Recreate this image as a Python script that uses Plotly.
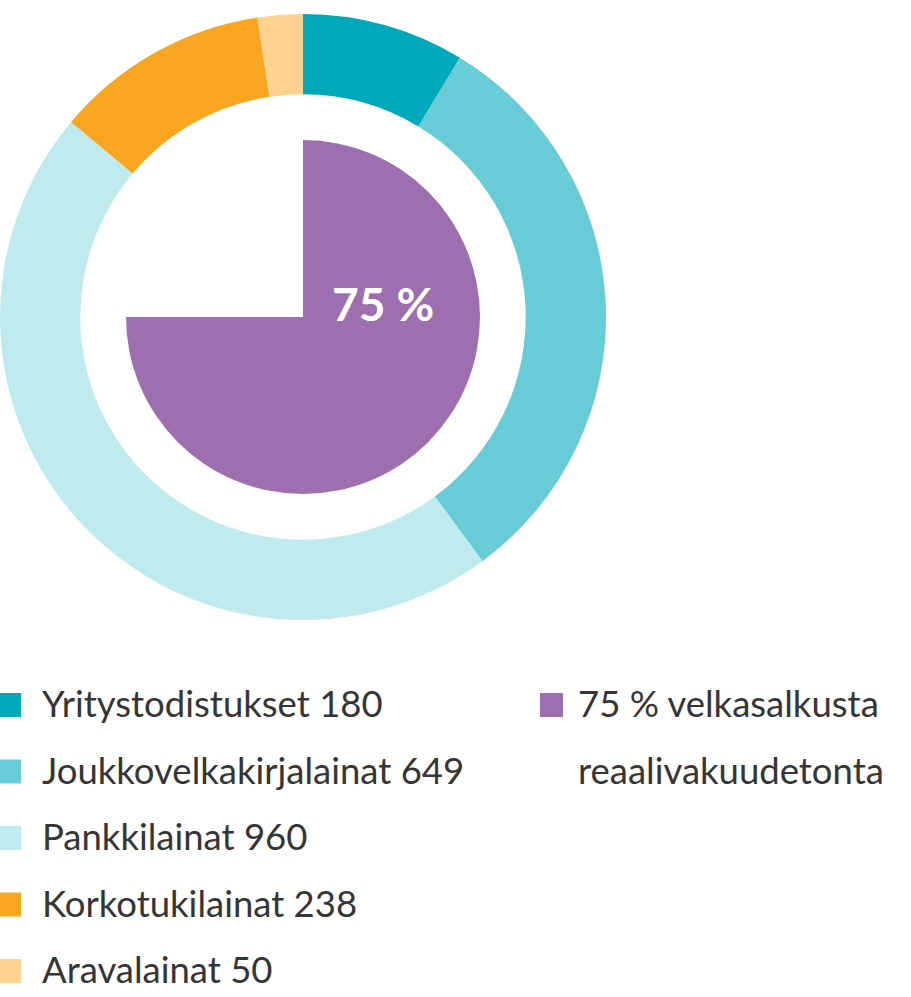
import plotly.graph_objects as go

W, H = 911, 997

# ---- data ----
labels = ["Yritystodistukset", "Joukkovelkakirjalainat", "Pankkilainat", "Korkotukilainat", "Aravalainat"]
values = [180, 649, 960, 238, 50]
colors = ["#00A9BA", "#68CCD7", "#BFEAEE", "#F8A51F", "#FDD38F"]

share_labels = ["reaalivakuudeton", "muu"]
share_values = [75, 25]
share_colors = ["#9D6FAF", "rgba(0,0,0,0)"]
share_text = "75 %"
share_legend = ["75 % velkasalkusta", "reaalivakuudetonta"]

TEXT_COLOR = "#353535"
FONT = "Lato"

# ---- geometry (pixels from top-left) ----
cx, cy = 303, 317
R_out, R_in = 303, 177

def dom(r, c_x=cx):
    return dict(x=[(c_x - r) / W, (c_x + r) / W],
                y=[(H - cy - r) / H, (H - cy + r) / H])

fig = go.Figure()
fig.add_trace(go.Pie(
    labels=labels, values=values, sort=False, direction="clockwise", rotation=0,
    hole=0.735, marker=dict(colors=colors, line=dict(width=0)),
    textinfo="none", hoverinfo="label+value", showlegend=False, domain=dom(R_out)))
fig.add_trace(go.Pie(
    labels=share_labels, values=share_values, sort=False, direction="clockwise", rotation=0,
    marker=dict(colors=share_colors, line=dict(width=0)),
    textinfo="none", hoverinfo="skip", showlegend=False, domain=dom(R_in)))

annotations = []
shapes = []

def px_x(x):
    return x / W

def px_y(y):
    return 1 - y / H

# centre label
annotations.append(dict(text=share_text, x=px_x(383), y=px_y(304), xref="paper", yref="paper",
                        showarrow=False, xanchor="center", yanchor="middle",
                        font=dict(family=FONT, size=46, color="white", weight="bold")))

# legend (left column)
row0, step = 705, 66.5
sq = 24
for i, (lab, val, col) in enumerate(zip(labels, values, colors)):
    yc = row0 + i * step
    shapes.append(dict(type="rect", xref="paper", yref="paper",
                       x0=px_x(-3), x1=px_x(21), y0=px_y(yc - sq / 2), y1=px_y(yc + sq / 2),
                       fillcolor=col, line=dict(width=0)))
    annotations.append(dict(text=f"{lab} {val}", x=px_x(40), y=px_y(yc - 2), xref="paper", yref="paper",
                            showarrow=False, xanchor="left", yanchor="middle",
                            font=dict(family=FONT, size=36.5, color=TEXT_COLOR)))

# legend (right column)
shapes.append(dict(type="rect", xref="paper", yref="paper",
                   x0=px_x(540), x1=px_x(563), y0=px_y(row0 - sq / 2), y1=px_y(row0 + sq / 2),
                   fillcolor=share_colors[0], line=dict(width=0)))
for j, line in enumerate(share_legend):
    annotations.append(dict(text=line, x=px_x(576), y=px_y(row0 - 2 + j * step), xref="paper", yref="paper",
                            showarrow=False, xanchor="left", yanchor="middle",
                            font=dict(family=FONT, size=36.5, color=TEXT_COLOR)))

fig.update_layout(width=W, height=H, margin=dict(l=0, r=0, t=0, b=0),
                  paper_bgcolor="white", plot_bgcolor="white",
                  annotations=annotations, shapes=shapes)

fig.write_html("out.html", config={"displayModeBar": False},
               post_script="document.body.style.margin='0';")
